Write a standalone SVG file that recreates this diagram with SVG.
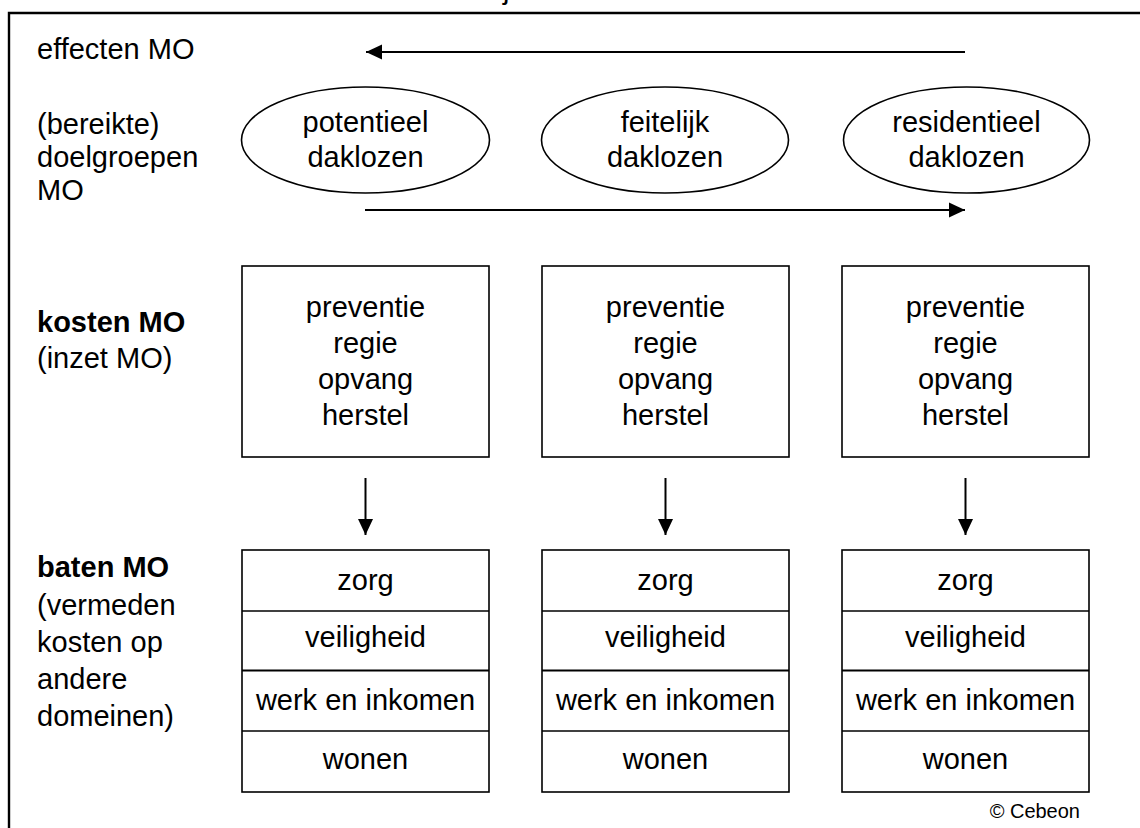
<svg xmlns="http://www.w3.org/2000/svg" width="1140" height="828" viewBox="0 0 1140 828">
<style>
text{font-family:"Liberation Sans",Arial,sans-serif;font-size:29px;fill:#000}
.c{text-anchor:middle}
.b{font-weight:bold}
.box{fill:#fff;stroke:#000;stroke-width:1.6}
.sep{stroke:#000;stroke-width:1.6}
.ell{fill:#fff;stroke:#000;stroke-width:1.6}
.arr{stroke:#000;stroke-width:2;fill:none}
.frame{stroke:#000;stroke-width:2.4;fill:none}
</style>
<defs>
<marker id="ah" viewBox="0 0 16 16" refX="16" refY="8" markerWidth="16" markerHeight="16" markerUnits="userSpaceOnUse" orient="auto">
<path d="M0,0.5 L16,8 L0,15.5 Z" fill="#000"/>
</marker>
</defs>
<rect width="1140" height="828" fill="#fff"/>
<text x="503" y="-1">j</text>
<path class="frame" d="M1140,13 H9 V828"/>

<g id="labels">
<text x="37" y="59">effecten MO</text>
<text x="37" y="134">(bereikte)</text>
<text x="37" y="167">doelgroepen</text>
<text x="37" y="200">MO</text>
<text x="37" y="332" class="b">kosten MO</text>
<text x="37" y="368">(inzet MO)</text>
<text x="37" y="577" class="b">baten MO</text>
<text x="37" y="615">(vermeden</text>
<text x="37" y="652">kosten op</text>
<text x="37" y="689">andere</text>
<text x="37" y="726">domeinen)</text>
</g>

<g id="connectors">
<line class="arr" x1="965" y1="52" x2="366" y2="52" marker-end="url(#ah)"/>
<line class="arr" x1="365" y1="210" x2="965" y2="210" marker-end="url(#ah)"/>
<line class="arr" x1="365.5" y1="478" x2="365.5" y2="535" marker-end="url(#ah)"/>
<line class="arr" x1="665.5" y1="478" x2="665.5" y2="535" marker-end="url(#ah)"/>
<line class="arr" x1="965.5" y1="478" x2="965.5" y2="535" marker-end="url(#ah)"/>
</g>

<g id="group-potentieel">
<ellipse class="ell" cx="365.5" cy="140" rx="124" ry="53"/>
<text class="c" x="365.5" y="132">potentieel</text>
<text class="c" x="365.5" y="167">daklozen</text>
</g>
<g id="group-feitelijk">
<ellipse class="ell" cx="665" cy="140" rx="123.5" ry="53"/>
<text class="c" x="665" y="132">feitelijk</text>
<text class="c" x="665" y="167">daklozen</text>
</g>
<g id="group-residentieel">
<ellipse class="ell" cx="966.5" cy="140" rx="123" ry="53"/>
<text class="c" x="966.5" y="132">residentieel</text>
<text class="c" x="966.5" y="167">daklozen</text>
</g>

<g id="kosten-1">
<rect class="box" x="242" y="266" width="247" height="191"/>
<text class="c" x="365.5" y="317">preventie</text>
<text class="c" x="365.5" y="353">regie</text>
<text class="c" x="365.5" y="389">opvang</text>
<text class="c" x="365.5" y="425">herstel</text>
</g>
<g id="kosten-2">
<rect class="box" x="542" y="266" width="247" height="191"/>
<text class="c" x="665.5" y="317">preventie</text>
<text class="c" x="665.5" y="353">regie</text>
<text class="c" x="665.5" y="389">opvang</text>
<text class="c" x="665.5" y="425">herstel</text>
</g>
<g id="kosten-3">
<rect class="box" x="842" y="266" width="247" height="191"/>
<text class="c" x="965.5" y="317">preventie</text>
<text class="c" x="965.5" y="353">regie</text>
<text class="c" x="965.5" y="389">opvang</text>
<text class="c" x="965.5" y="425">herstel</text>
</g>

<g id="baten-1">
<rect class="box" x="242" y="550" width="247" height="242"/>
<line class="sep" x1="242" y1="611" x2="489" y2="611"/>
<line class="sep" x1="242" y1="670.5" x2="489" y2="670.5" style="stroke-width:2.2"/>
<line class="sep" x1="242" y1="731" x2="489" y2="731"/>
<text class="c" x="365.5" y="590">zorg</text>
<text class="c" x="365.5" y="647">veiligheid</text>
<text class="c" x="365.5" y="710">werk en inkomen</text>
<text class="c" x="365.5" y="769">wonen</text>
</g>
<g id="baten-2">
<rect class="box" x="542" y="550" width="247" height="242"/>
<line class="sep" x1="542" y1="611" x2="789" y2="611"/>
<line class="sep" x1="542" y1="670.5" x2="789" y2="670.5" style="stroke-width:2.2"/>
<line class="sep" x1="542" y1="731" x2="789" y2="731"/>
<text class="c" x="665.5" y="590">zorg</text>
<text class="c" x="665.5" y="647">veiligheid</text>
<text class="c" x="665.5" y="710">werk en inkomen</text>
<text class="c" x="665.5" y="769">wonen</text>
</g>
<g id="baten-3">
<rect class="box" x="842" y="550" width="247" height="242"/>
<line class="sep" x1="842" y1="611" x2="1089" y2="611"/>
<line class="sep" x1="842" y1="670.5" x2="1089" y2="670.5" style="stroke-width:2.2"/>
<line class="sep" x1="842" y1="731" x2="1089" y2="731"/>
<text class="c" x="965.5" y="590">zorg</text>
<text class="c" x="965.5" y="647">veiligheid</text>
<text class="c" x="965.5" y="710">werk en inkomen</text>
<text class="c" x="965.5" y="769">wonen</text>
</g>

<text x="1080" y="818" style="font-size:20px;text-anchor:end">© Cebeon</text>
</svg>
